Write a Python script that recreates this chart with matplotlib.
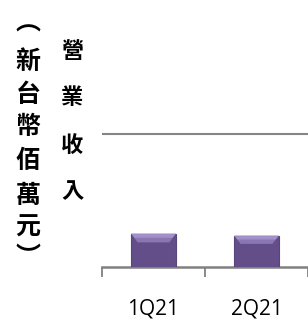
import matplotlib.pyplot as plt
from matplotlib.patches import Polygon

# 資料
quarters = ["1Q21", "2Q21"]
revenue = [500, 470]
grid_value = 2000

title_chars = ["營", "業", "收", "入"]
unit_chars = ["︵", "新", "台", "幣", "佰", "萬", "元", "︶"]

W, H = 308, 321
fig = plt.figure(figsize=(W / 100, H / 100), dpi=100)

# 繪圖區：左邊 102px，底部軸線約在 y=267
ax_left = 102 / W
ax_bottom = (H - 267) / H
ax_height = 166 / H
ax = fig.add_axes([ax_left, ax_bottom, 1 - ax_left, ax_height])

cat_px = 108
x = list(range(len(quarters)))
bar_w = 0.43

bars = ax.bar(x, revenue, width=bar_w, color="#634e8a", edgecolor="#584579",
              linewidth=0.8, zorder=3)

# 斜角高光
for rect in bars:
    x0 = rect.get_x()
    w = rect.get_width()
    h = rect.get_height()
    inset = w * 0.14
    poly = Polygon([[x0, h], [x0 + w, h], [x0 + w - inset, h * 0.74], [x0 + inset, h * 0.74]],
                   closed=True, facecolor="#8a76b2", edgecolor="none", zorder=4)
    ax.add_patch(poly)
    poly2 = Polygon([[x0, h], [x0 + w, h], [x0 + w - inset * 0.5, h * 0.88],
                     [x0 + inset * 0.5, h * 0.88]],
                    closed=True, facecolor="#a291c9", edgecolor="none", zorder=4)
    ax.add_patch(poly2)

ax.set_xlim(-0.5, -0.5 + (W - 102) / cat_px)
ax.set_ylim(0, grid_value * 166 / 133)

ax.set_yticks([grid_value])
ax.yaxis.grid(True, color="#868686", linewidth=1.5)
ax.tick_params(axis="y", length=0, labelleft=False)

for s in ["top", "right", "left"]:
    ax.spines[s].set_visible(False)
ax.spines["bottom"].set_color("#808080")
ax.spines["bottom"].set_linewidth(1.8)

ax.set_xticks(x)
ax.set_xticklabels(quarters, fontsize=15, family="Open Sans")
ax.tick_params(axis="x", length=0, pad=23)
ax.set_xticks([i - 0.5 for i in range(len(quarters) + 1)], minor=True)
ax.tick_params(axis="x", which="minor", length=7.5, width=1.3, color="#808080")

# 直書標題
cjk = ["Noto Sans CJK TC", "DejaVu Sans"]
for i, ch in enumerate(title_chars):
    fig.text(72 / W, 1 - (51 + i * 47) / H, ch, family=cjk, fontsize=16,
             fontweight="bold", ha="center", va="center")
unit_y = [24, 62, 95, 127, 161, 196, 228, 257]
for ch, yy in zip(unit_chars, unit_y):
    fig.text(28 / W, 1 - yy / H, ch, family=cjk, fontsize=18,
             fontweight="bold", ha="center", va="center")

fig.savefig("out.png", dpi=100)
